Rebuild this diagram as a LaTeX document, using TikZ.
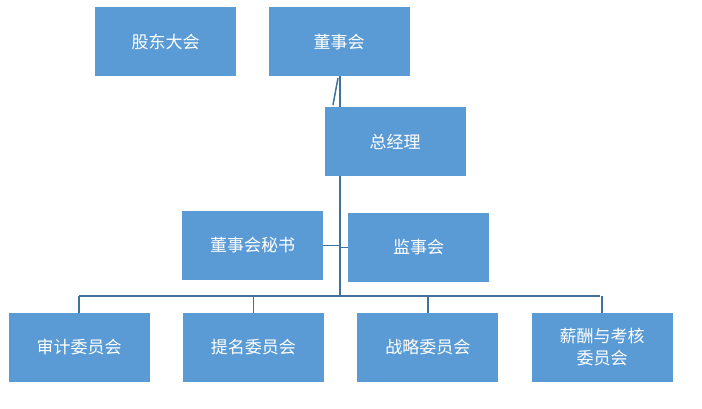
\documentclass[tikz,border=0pt]{standalone}
\usepackage{fontspec}
\newfontfamily\cjk{Noto Sans CJK SC}
\usetikzlibrary{positioning}
\definecolor{boxblue}{HTML}{5B9BD5}
\definecolor{linkblue}{HTML}{41719C}
\tikzstyle{unit} = [rectangle, fill=boxblue, text=white, minimum width=141pt,
                    minimum height=69pt, inner sep=0pt, align=center,
                    font=\cjk\fontsize{17}{22}\selectfont]
\tikzstyle{link} = [draw=linkblue, line width=1.5pt]

\begin{document}
\begin{tikzpicture}[x=1pt, y=-1pt]
    \useasboundingbox (0,0) rectangle (702,409);

        \node [unit] (gudong) at (165.5,42) {股东大会};
        \node [unit] (dongshi) at (339,42) {董事会};
        \node [unit] (zongjingli) at (395,141.5) {总经理};
        \node [unit] (mishu) at (252.5,245.5) {董事会秘书};
        \node [unit] (jianshi) at (418.5,247.5) {监事会};
        \node [unit] (shenji) at (79,347.5) {审计委员会};
        \node [unit, right= 33pt of shenji] (timing) {提名委员会};
        \node [unit, right= 33pt of timing] (zhanlue) {战略委员会};
        \node [unit, right= 33pt of zhanlue] (xinchou) {薪酬与考核\\委员会};
        \coordinate (top) at (340,176);
        \coordinate (bus) at (340,296);
        \coordinate (busl) at (79,296);
        \coordinate (busr) at (600,296);

        \draw [link] (340,76) -- (340,107);
        \draw [link] (338,78) -- (333,105);
        \draw [link] (top) -- (bus);
        \draw [link] (busl) -- (busr);
        \draw [link] (mishu.east) -- (mishu.east -| bus);
        \draw [link] (jianshi.west) -- (jianshi.west -| bus);
        \foreach \b in {shenji, timing, zhanlue, xinchou}
            \draw [link] (\b.north |- bus) -- (\b.north);
    \end{tikzpicture}
\end{document}
